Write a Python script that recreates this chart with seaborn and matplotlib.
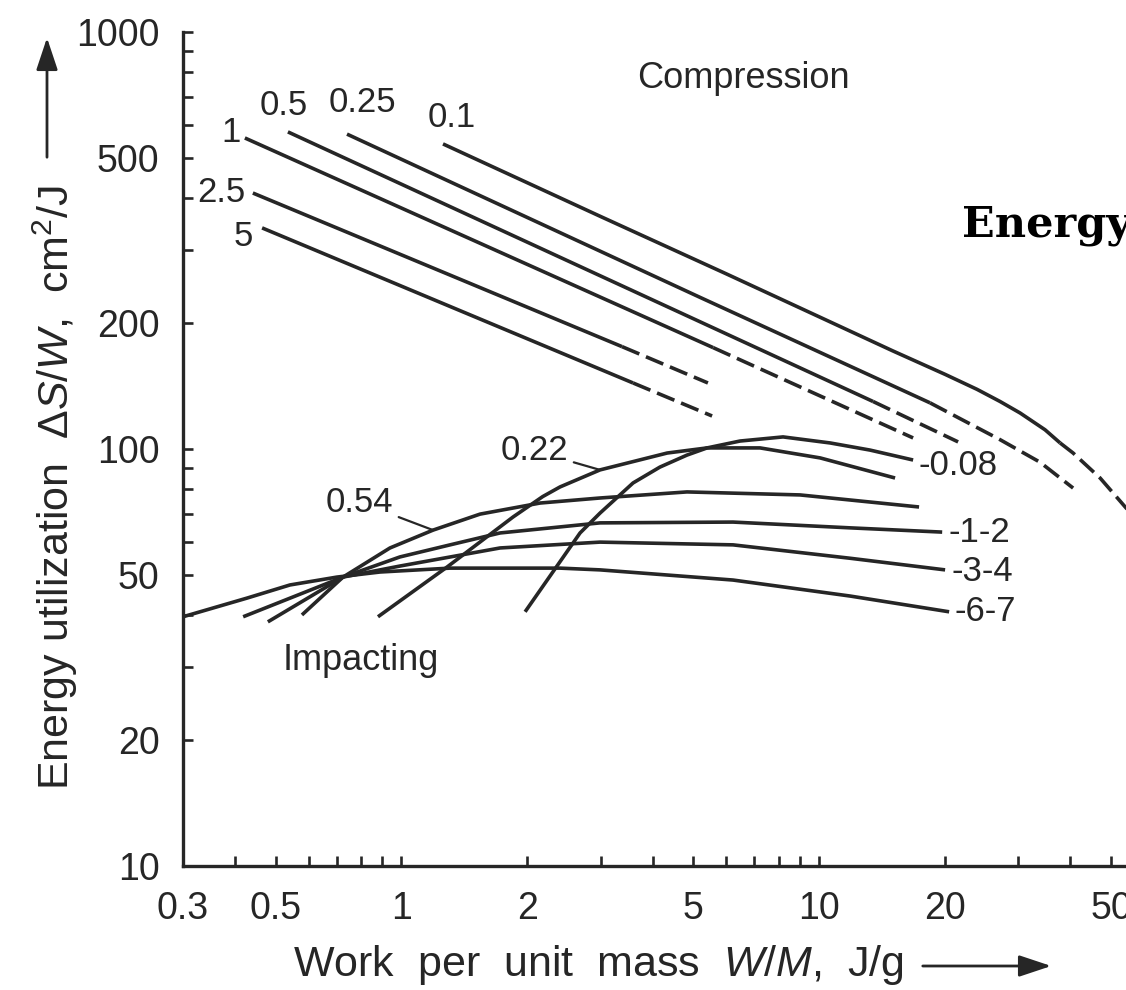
import matplotlib
matplotlib.use("Agg")
import matplotlib.pyplot as plt
import seaborn as sns
from matplotlib.ticker import FixedLocator, FixedFormatter, NullFormatter
from matplotlib.patches import FancyArrowPatch

# ---------------------------------------------------------------- data
# Compression: curves per particle size (mm); solid = measured, dashed = extrapolated
comp_01_x = [1.258, 3.0, 6.0, 10.06, 15.0, 20.04, 23.9, 27.13, 30.3, 34.77, 37.78]
comp_01_y = [539, 361, 263, 207, 172, 151, 139, 130, 122, 111.2, 103.4]
comp_01_dx = [37.78, 40.59, 47.1, 54.36, 58.7]
comp_01_dy = [103.4, 97.8, 85.2, 72.2, 66.4]

comp_025_x = [0.741, 5.19, 18.45]
comp_025_y = [569, 231, 129]
comp_025_dx = [18.45, 27.13, 33.8, 40.59]
comp_025_dy = [129, 105.3, 93.0, 80.6]

comp_05_x = [0.535, 13.47]
comp_05_y = [576, 130]
comp_05_dx = [13.47, 21.53]
comp_05_dy = [130, 104]

comp_1_x = [0.422, 5.58]
comp_1_y = [557, 175]
comp_1_dx = [5.58, 16.8]
comp_1_dy = [175, 106.3]

comp_25_x = [0.441, 3.375]
comp_25_y = [411, 176]
comp_25_dx = [3.375, 5.42]
comp_25_dy = [176, 144]

comp_5_x = [0.464, 3.587]
comp_5_y = [339, 144]
comp_5_dx = [3.587, 5.546]
comp_5_dy = [144, 120]

# Impacting: curves per particle size (mm)
imp_008_x = [1.978, 2.678, 2.99, 3.587, 4.16, 4.83, 5.394, 6.471, 8.202, 10.63, 13.25, 16.8]
imp_008_y = [40.7, 62.9, 70.2, 82.9, 90.5, 96.7, 100.6, 104.5, 106.9, 103.4, 99.4, 94.1]

imp_022_x = [0.879, 1.286, 1.851, 2.18, 2.398, 2.99, 4.33, 5.394, 7.226, 10.06, 15.21]
imp_022_y = [39.6, 52.1, 68.7, 76.9, 81.1, 89.1, 97.8, 100.6, 100.6, 95.2, 85.2]

imp_054_x = [0.578, 0.725, 0.939, 1.191, 1.543, 2.148, 2.99, 4.83, 9.006, 17.36]
imp_054_y = [40.0, 49.3, 57.9, 63.9, 69.8, 74.2, 76.3, 78.9, 77.6, 72.6]

imp_12_x = [0.479, 0.725, 0.992, 1.308, 1.723, 2.99, 6.225, 11.87, 19.72]
imp_12_y = [38.5, 49.3, 55.1, 58.9, 62.9, 66.5, 66.8, 64.7, 63.2]

imp_34_x = [0.418, 0.725, 0.992, 1.723, 2.99, 6.225, 11.87, 20.04]
imp_34_y = [39.6, 49.3, 52.4, 57.9, 59.8, 58.9, 54.7, 51.3]

imp_67_x = [0.3, 0.427, 0.541, 0.701, 0.889, 1.308, 1.723, 2.398, 2.99, 6.225, 11.87, 20.49]
imp_67_y = [39.6, 43.9, 47.2, 49.3, 50.7, 51.8, 51.8, 51.8, 51.3, 48.5, 44.4, 40.7]

x_ticks = [0.3, 0.5, 1, 2, 5, 10, 20, 50]
x_tick_labels = ["0.3", "0.5", "1", "2", "5", "10", "20", "50"]
x_minor = [0.4, 0.6, 0.7, 0.8, 0.9, 3, 4, 6, 7, 8, 9, 30, 40]
y_ticks = [10, 20, 50, 100, 200, 500, 1000]
y_tick_labels = ["10", "20", "50", "100", "200", "500", "1000"]
y_minor = [30, 40, 60, 70, 80, 90, 300, 400, 600, 700, 800, 900]

# ---------------------------------------------------------------- style
sns.set_theme(style="ticks")
INK = "#262626"
plt.rcParams["font.family"] = ["Liberation Sans", "DejaVu Sans"]
plt.rcParams["mathtext.fontset"] = "custom"
plt.rcParams["mathtext.rm"] = "Liberation Sans"
plt.rcParams["mathtext.it"] = "Liberation Sans:italic"
plt.rcParams["mathtext.bf"] = "Liberation Sans:bold"

W, H = 1126, 990
fig = plt.figure(figsize=(W / 100, H / 100), dpi=100)
fig.patch.set_facecolor("white")


def fx(px):
    return px / W


def fy(py):
    return 1 - py / H


ax = fig.add_axes([fx(183), fy(866), 961 / W, (866 - 32) / H])
ax.set_facecolor("white")
ax.set_xscale("log")
ax.set_yscale("log")

LW = 2.6
DASH = (0, (5.2, 2.0))


def draw(xs, ys, dashed=False):
    sns.lineplot(x=xs, y=ys, ax=ax, color=INK, lw=LW, sort=False,
                 estimator=None, legend=False)
    line = ax.get_lines()[-1]
    if dashed:
        line.set_linestyle(DASH)
    line.set_solid_capstyle("butt")
    line.set_dash_capstyle("butt")
    line.set_solid_joinstyle("round")


compression = [
    ("0.1", comp_01_x, comp_01_y, comp_01_dx, comp_01_dy, (9, 26)),
    ("0.25", comp_025_x, comp_025_y, comp_025_dx, comp_025_dy, (15, 32)),
    ("0.5", comp_05_x, comp_05_y, comp_05_dx, comp_05_dy, (-4, 26)),
    ("1", comp_1_x, comp_1_y, comp_1_dx, comp_1_dy, (-14, 5)),
    ("2.5", comp_25_x, comp_25_y, comp_25_dx, comp_25_dy, (-32, 1)),
    ("5", comp_5_x, comp_5_y, comp_5_dx, comp_5_dy, (-19, -9)),
]
for name, xs, ys, dxs, dys, off in compression:
    draw(xs, ys)
    draw(dxs, dys, dashed=True)
    ax.annotate(name, xy=(xs[0], ys[0]), xytext=(off[0] * 0.72, off[1] * 0.72),
                textcoords="offset points", ha="center", va="center",
                fontsize=25, color=INK)

impacting = [
    (imp_008_x, imp_008_y), (imp_022_x, imp_022_y), (imp_054_x, imp_054_y),
    (imp_12_x, imp_12_y), (imp_34_x, imp_34_y), (imp_67_x, imp_67_y),
]
for xs, ys in impacting:
    draw(xs, ys)

# labels at the right-hand ends of the impacting curves
right_labels = [
    ("0.08", imp_008_x, imp_008_y, (5, -5)),
    ("1-2", imp_12_x, imp_12_y, (6, 0)),
    ("3-4", imp_34_x, imp_34_y, (6, -2)),
    ("6-7", imp_67_x, imp_67_y, (5, 0)),
]
for name, xs, ys, off in right_labels:
    ax.annotate("-" + name, xy=(xs[-1], ys[-1]), xytext=(off[0] * 0.72, off[1] * 0.72),
                textcoords="offset points", ha="left", va="center",
                fontsize=25, color=INK)

# labels with leader lines on the rising impacting curves
lead = dict(arrowstyle="-", color=INK, lw=1.6, shrinkA=2, shrinkB=0)
ax.annotate("0.54", xy=(imp_054_x[3], imp_054_y[3]), xytext=(-74 * 0.72, 28 * 0.72),
            textcoords="offset points", ha="center", va="center",
            fontsize=25, color=INK, arrowprops=lead)
ax.annotate("0.22", xy=(imp_022_x[5], imp_022_y[5]), xytext=(-66 * 0.72, 19 * 0.72),
            textcoords="offset points", ha="center", va="center",
            fontsize=25, color=INK, arrowprops=lead)

# ---------------------------------------------------------------- axes
ax.set_xlim(0.3, 60)
ax.set_ylim(10, 1000)
for side in ("top", "right"):
    ax.spines[side].set_visible(False)
for side in ("left", "bottom"):
    ax.spines[side].set_color(INK)
    ax.spines[side].set_linewidth(2.4)

ax.xaxis.set_major_locator(FixedLocator(x_ticks))
ax.xaxis.set_major_formatter(FixedFormatter(x_tick_labels))
ax.xaxis.set_minor_locator(FixedLocator(x_minor))
ax.xaxis.set_minor_formatter(NullFormatter())
ax.yaxis.set_major_locator(FixedLocator(y_ticks))
ax.yaxis.set_major_formatter(FixedFormatter(y_tick_labels))
ax.yaxis.set_minor_locator(FixedLocator(y_minor))
ax.yaxis.set_minor_formatter(NullFormatter())
ax.tick_params(which="both", direction="in", length=7.5, width=1.9, color=INK)
ax.tick_params(axis="x", which="major", pad=18, labelsize=27, labelcolor=INK)
ax.tick_params(axis="y", which="major", pad=17, labelsize=27, labelcolor=INK)
ax.grid(False)

# ---------------------------------------------------------------- text
fig.text(fx(743), fy(79), "Compression", ha="center", va="center",
         fontsize=26, color=INK)
fig.text(fx(361), fy(660), "Impacting", ha="center", va="center",
         fontsize=26, color=INK)
fig.text(fx(55), fy(487), r"Energy utilization  $\Delta S/W$,  cm$^2$/J",
         rotation=90, ha="center", va="center", fontsize=31, color=INK)
fig.text(fx(293), fy(965), r"Work  per  unit  mass  $W/M$,  J/g",
         ha="left", va="center", fontsize=31, color=INK)
fig.add_artist(FancyArrowPatch((fx(47), fy(160)), (fx(47), fy(35)),
                               transform=fig.transFigure,
                               arrowstyle="-|>,head_length=0.9,head_width=0.3",
                               mutation_scale=22, lw=2.0, color=INK))
fig.add_artist(FancyArrowPatch((fx(920), fy(966)), (fx(1054), fy(966)),
                               transform=fig.transFigure,
                               arrowstyle="-|>,head_length=0.9,head_width=0.3",
                               mutation_scale=22, lw=2.0, color=INK))
fig.text(fx(962), fy(236), "Energy", ha="left", va="baseline",
         fontfamily="DejaVu Serif", fontweight="bold", fontsize=31, color="black")

fig.savefig("out.png", dpi=100)
